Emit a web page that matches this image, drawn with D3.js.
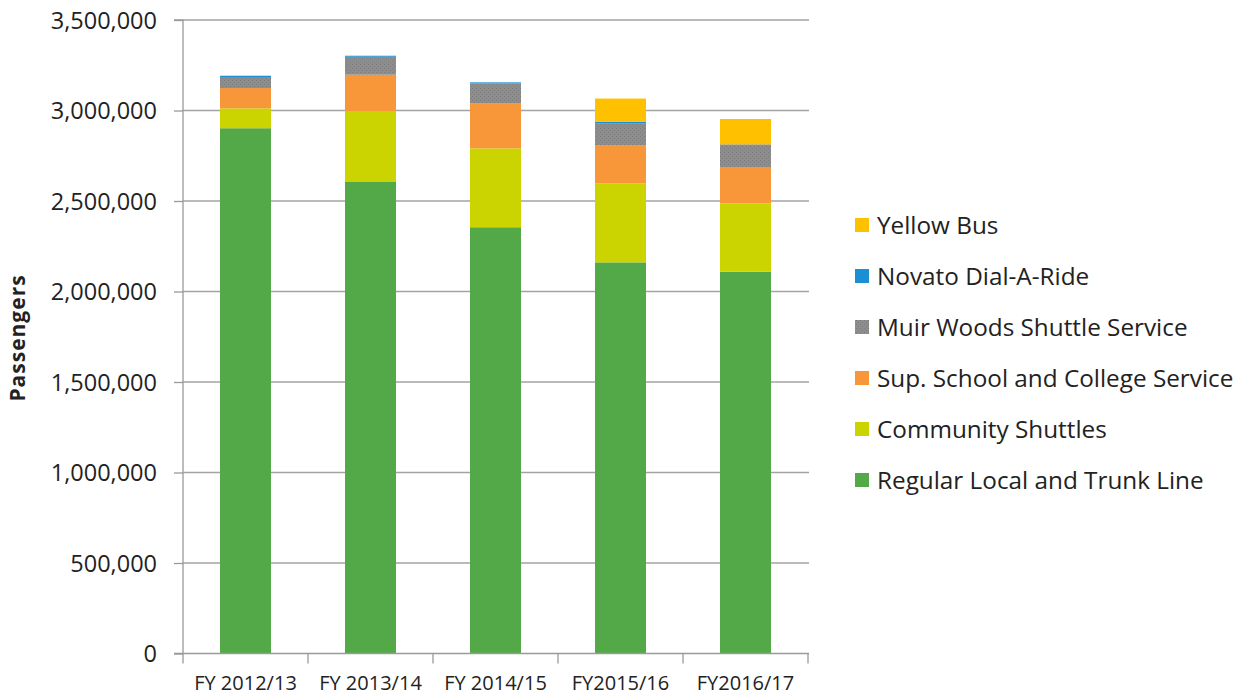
<!DOCTYPE html>
<html>
<head>
<meta charset="utf-8">
<script src="https://cdn.jsdelivr.net/npm/d3@7"></script>
<style>
  html, body { margin: 0; padding: 0; background: #ffffff; }
  svg { display: block; }
  text { font-family: "Open Sans", "Noto Sans", sans-serif; fill: #222; }
</style>
</head>
<body>
<svg id="chart" width="1247" height="696"></svg>
<script>
// ---- data ----
const categories = ["FY 2012/13", "FY 2013/14", "FY 2014/15", "FY2015/16", "FY2016/17"];
const regularLocal = [2902000, 2605000, 2355000, 2161000, 2109000];
const communityShuttles = [110000, 392000, 436000, 437000, 378000];
const schoolCollege = [112000, 201000, 250000, 208000, 201000];
const muirWoods = [61000, 99000, 109000, 124000, 125000];
const novatoDAR = [7000, 5500, 5500, 7000, 0];
const yellowBus = [0, 0, 0, 129000, 140000];
const yTicks = [0, 500000, 1000000, 1500000, 2000000, 2500000, 3000000, 3500000];
const seriesNames = ["Regular Local and Trunk Line", "Community Shuttles", "Sup. School and College Service",
                     "Muir Woods Shuttle Service", "Novato Dial-A-Ride", "Yellow Bus"];
const seriesValues = [regularLocal, communityShuttles, schoolCollege, muirWoods, novatoDAR, yellowBus];
const seriesColors = ["#53a847", "#cbd400", "#f79739", "url(#muirPat)", "#1b8fd3", "#ffc000"];

// ---- layout ----
const svg = d3.select("#chart");
const mLeft = 183, mRight = 808, mTop = 20, mBottom = 653.5;

const defs = svg.append("defs");
const pat = defs.append("pattern").attr("id", "muirPat").attr("patternUnits", "userSpaceOnUse")
  .attr("width", 4).attr("height", 4);
pat.append("rect").attr("width", 4).attr("height", 4).attr("fill", "#8d8d8d");
pat.append("rect").attr("x", 0).attr("y", 0).attr("width", 1).attr("height", 1).attr("fill", "#7c7c7c");
pat.append("rect").attr("x", 2).attr("y", 2).attr("width", 1).attr("height", 1).attr("fill", "#7c7c7c");

const table = categories.map((c, i) => {
  const row = { cat: c };
  seriesNames.forEach((s, k) => row[s] = seriesValues[k][i]);
  return row;
});
const stacked = d3.stack().keys(seriesNames)(table);

const x = d3.scaleBand().domain(categories).range([mLeft, mRight]).paddingInner(0.592).paddingOuter(0.296);
const y = d3.scaleLinear().domain([0, 3500000]).range([mBottom, mTop]);

// gridlines
svg.append("g").selectAll("line").data(yTicks.filter(d => d > 0)).join("line")
  .attr("x1", mLeft).attr("x2", mRight + 1)
  .attr("y1", d => y(d)).attr("y2", d => y(d))
  .attr("stroke", "#a3a3a3").attr("stroke-width", 1.4);

// bars
svg.append("g").selectAll("g").data(stacked).join("g")
  .attr("fill", (d, i) => seriesColors[i])
  .selectAll("rect").data(d => d).join("rect")
  .attr("x", d => x(d.data.cat))
  .attr("width", x.bandwidth())
  .attr("y", d => y(d[1]))
  .attr("height", d => Math.max(0, y(d[0]) - y(d[1])));

// y axis
const yAxis = d3.axisLeft(y).tickValues(yTicks).tickSize(9).tickPadding(17)
  .tickFormat(d3.format(","));
const gy = svg.append("g").attr("transform", `translate(${mLeft},0)`).call(yAxis);
gy.select(".domain").attr("stroke", "#9a9a9a").attr("stroke-width", 1.3).attr("d", `M-9,${mTop}H0V${mBottom}H-9`);
gy.selectAll(".tick line").attr("stroke", "#9a9a9a").attr("stroke-width", 1.3);
gy.selectAll(".tick text").attr("font-size", 23.5).attr("fill", "#222")
  .attr("font-family", "'Open Sans', sans-serif").attr("dy", "0.34em");

// x axis
const xAxis = d3.axisBottom(x).tickSize(0).tickPadding(26);
const gx = svg.append("g").attr("transform", `translate(0,${mBottom})`).call(xAxis);
gx.select(".domain").attr("stroke", "#9a9a9a").attr("stroke-width", 1.3).attr("d", `M${mLeft},0H${mRight + 1}`);
gx.selectAll(".tick text").attr("font-size", 20).attr("fill", "#222")
  .attr("font-family", "'Open Sans', sans-serif").attr("dy", "0.5em");
// category boundary ticks
svg.append("g").selectAll("line").data(categories.concat(["_end"])).join("line")
  .attr("x1", (d, i) => mLeft + i * x.step()).attr("x2", (d, i) => mLeft + i * x.step())
  .attr("y1", mBottom).attr("y2", mBottom + 10)
  .attr("stroke", "#9a9a9a").attr("stroke-width", 1.3);

// y title
svg.append("text").attr("transform", `translate(25,338) rotate(-90)`)
  .attr("text-anchor", "middle").attr("font-size", 21).attr("font-weight", "bold")
  .attr("letter-spacing", 1).attr("fill", "#111").text("Passengers");

// legend (reverse order)
const legendOrder = seriesNames.map((s, i) => i).reverse();
const lg = svg.append("g");
legendOrder.forEach((k, j) => {
  const cy = 225 + j * 51;
  lg.append("rect").attr("x", 855).attr("y", cy - 7).attr("width", 14).attr("height", 14)
    .attr("fill", seriesColors[k]);
  lg.append("text").attr("x", 877).attr("y", cy).attr("dy", "0.36em")
    .attr("font-size", 24.3).attr("fill", "#222").text(seriesNames[k]);
});
</script>
</body>
</html>
